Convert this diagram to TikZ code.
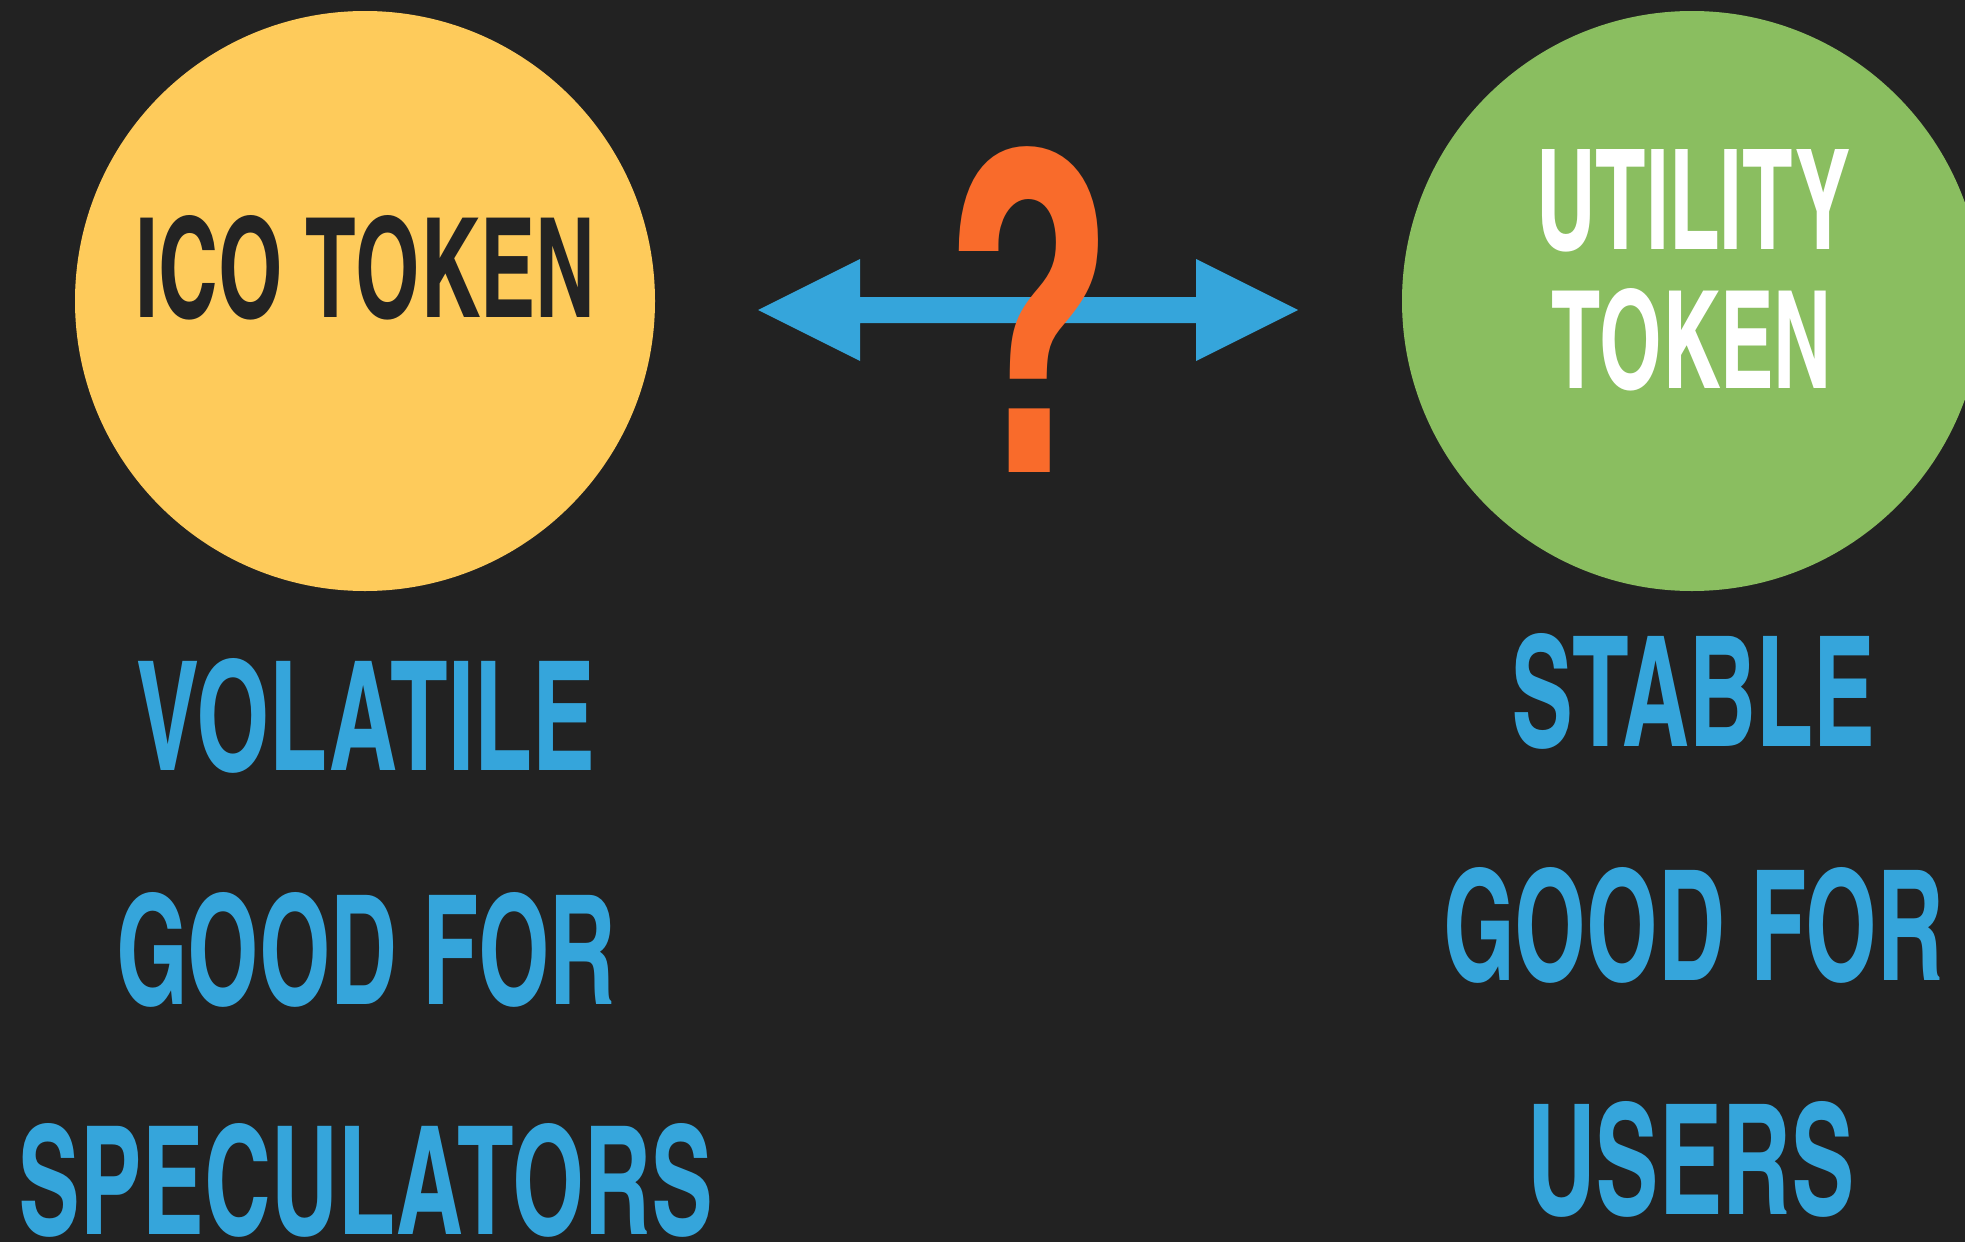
\documentclass[tikz,border=0pt]{standalone}
\usepackage{fontspec}
\newfontfamily\dinfont[Extension=.otf]{texgyreheroscn-bold}
\definecolor{bg}{HTML}{222222}
\definecolor{icoyellow}{HTML}{FECB5B}
\definecolor{utilgreen}{HTML}{8ABE60}
\definecolor{linkblue}{HTML}{35A5DB}
\definecolor{askorange}{HTML}{F96B2B}
\definecolor{inkdark}{HTML}{232323}
% set a line of condensed caps into a box of given width and cap height (pt)
\newcommand{\fitline}[3]{\resizebox{#1pt}{#2pt}{\dinfont #3}}
\begin{document}
\begin{tikzpicture}[x=1pt,y=-1pt,
  txt/.style={anchor=north west, inner sep=0pt, outer sep=0pt},
  token/.style={circle, minimum size=580pt, inner sep=0pt}]
  \useasboundingbox (0,0) rectangle (1965,1242);
  \clip (0,0) rectangle (1965,1242);
  \fill[bg] (0,0) rectangle (1965,1242);

  % the two token discs
  \node[token, fill=icoyellow] (ico) at (365,301) {};
  \node[token, fill=utilgreen] (util) at (1692,301) {};

  % titles inside the discs
  \node[txt, text=inkdark] (icotitle) at (135,215) {\fitline{460}{102}{ICO TOKEN}};
  \node[txt, text=white] (utiltitle) at (1536,149) {\fitline{315}{100}{UTILITY}};
  \node[txt, text=white] (utiltoken) at (1551,288) {\fitline{281}{100}{TOKEN}};

  % double-headed arrow between the discs
  \coordinate (lefttip) at (758,310);
  \coordinate (righttip) at (1298,310);
  \fill[linkblue] (lefttip) -- (860,259) -- (860,297) -- (1196,297) -- (1196,259)
    -- (righttip) -- (1196,361) -- (1196,323) -- (860,323) -- (860,361) -- cycle;

  % question mark over the arrow
  \node[txt, text=askorange] (ask) at (942,147) {\fitline{171}{325}{?}};

  % properties of the ICO token
  \node[txt, text=linkblue] (volatile) at (136,658) {\fitline{459}{112}{VOLATILE}};
  \node[txt, text=linkblue] (goodleft) at (116,892) {\fitline{500}{112}{GOOD FOR}};
  \node[txt, text=linkblue] (specs) at (19,1123) {\fitline{694}{111}{SPECULATORS}};

  % properties of the utility token
  \node[txt, text=linkblue] (stable) at (1511,633) {\fitline{364}{113}{STABLE}};
  \node[txt, text=linkblue] (goodright) at (1443,867) {\fitline{501}{113}{GOOD FOR}};
  \node[txt, text=linkblue] (users) at (1527,1101) {\fitline{328}{113}{USERS}};
\end{tikzpicture}
\end{document}
